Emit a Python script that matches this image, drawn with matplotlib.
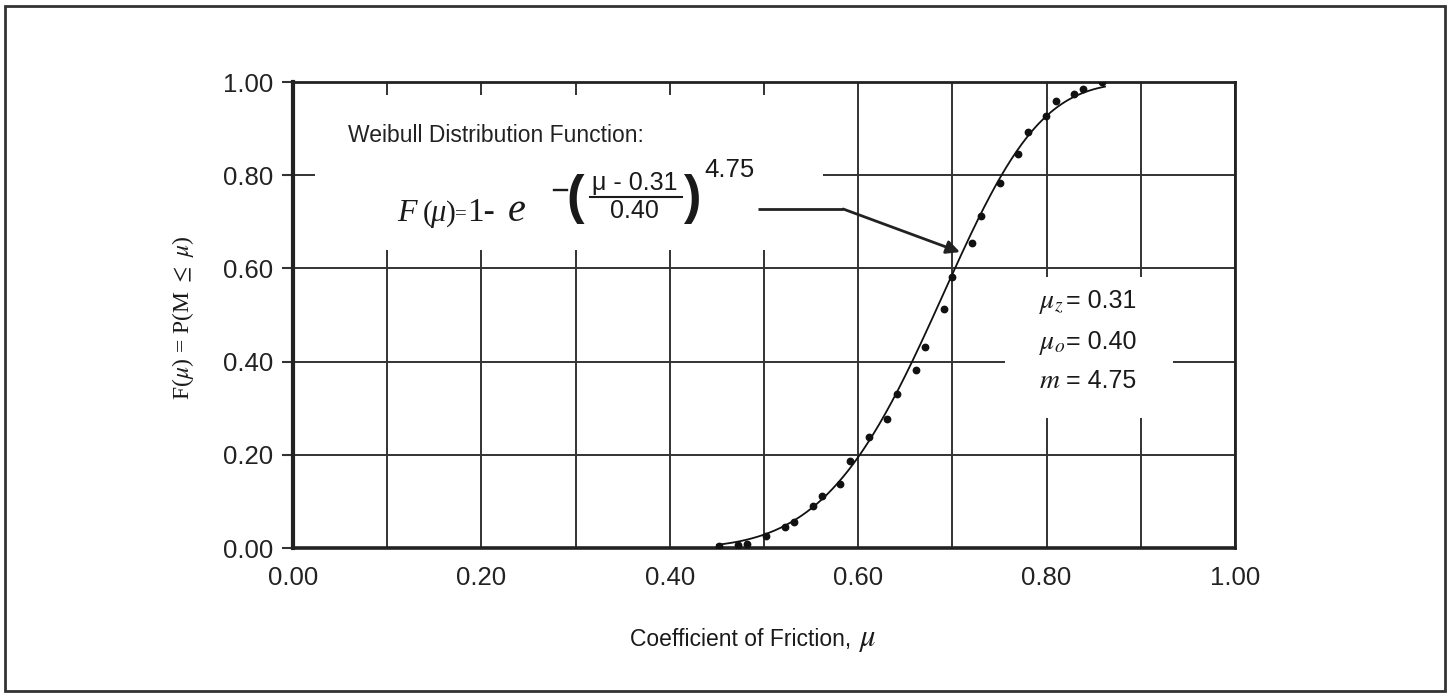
import numpy as np
import matplotlib
matplotlib.use("Agg")
import matplotlib.pyplot as plt
from matplotlib.patches import Rectangle

# ---------------- data ----------------
mu_obs = [0.452, 0.472, 0.482, 0.502, 0.522, 0.532, 0.552, 0.562, 0.581,
          0.591, 0.611, 0.631, 0.641, 0.661, 0.671, 0.691, 0.700, 0.721,
          0.730, 0.750, 0.770, 0.780, 0.799, 0.810, 0.829, 0.839, 0.859]
F_obs = [0.005, 0.006, 0.008, 0.026, 0.044, 0.056, 0.090, 0.111, 0.137,
         0.187, 0.238, 0.276, 0.331, 0.382, 0.432, 0.512, 0.582, 0.655,
         0.712, 0.783, 0.845, 0.893, 0.926, 0.959, 0.974, 0.985, 0.999]

# fitted Weibull parameters shown on the chart
mu_z = 0.31
mu_o = 0.40
m_shape = 4.75
curve_range = [0.45, 0.862]

x_ticks = [0.0, 0.2, 0.4, 0.6, 0.8, 1.0]
y_ticks = [0.0, 0.2, 0.4, 0.6, 0.8, 1.0]
tick_labels_x = ["0.00", "0.20", "0.40", "0.60", "0.80", "1.00"]
tick_labels_y = ["0.00", "0.20", "0.40", "0.60", "0.80", "1.00"]

# ---------------- figure ----------------
W, H = 1448, 694
fig = plt.figure(figsize=(W / 100, H / 100), dpi=100)
SANS = "Liberation Sans"
SERIF = "Liberation Serif"
plt.rcParams["font.family"] = [SANS, "DejaVu Sans"]


def P(px, py):
    return (px / W, 1 - py / H)


ax = fig.add_axes([293 / W, 1 - 548 / H, (1235 - 293) / W, (548 - 82) / H])
ax.set_xlim(0, 1)
ax.set_ylim(0, 1)

ax.set_xticks(x_ticks)
ax.set_xticklabels(tick_labels_x)
ax.set_xticks(np.arange(0.1, 1.0, 0.2), minor=True)
ax.set_yticks(y_ticks)
ax.set_yticklabels(tick_labels_y)
ax.set_axisbelow(True)
ax.grid(which="both", color="#333333", lw=1.4)

ax.tick_params(axis="x", which="both", length=0, pad=13, labelsize=18.5,
               labelcolor="#222222")
ax.tick_params(axis="y", which="major", length=8, width=1.5, pad=6,
               labelsize=18.5, labelcolor="#222222", color="#333333")

for side, lw in (("left", 3), ("bottom", 2.6), ("top", 2), ("right", 2)):
    ax.spines[side].set_linewidth(lw)
    ax.spines[side].set_color("#222222")

# white masks where text sits on the grid
ax.add_patch(Rectangle((0.023, 0.6395), 0.5396, 0.3325, fc="white",
                       ec="none", zorder=1))
ax.add_patch(Rectangle((0.756, 0.279), 0.178, 0.3025, fc="white",
                       ec="none", zorder=1))

# fitted curve
xc = np.linspace(curve_range[0], curve_range[1], 300)
yc = 1 - np.exp(-((xc - mu_z) / mu_o) ** m_shape)
ax.plot(xc, yc, color="#111111", lw=1.3, zorder=3)

# observed data
ax.plot(mu_obs, F_obs, "o", color="#111111", ms=4.6, zorder=4)

# arrow
ax.plot([0.4936, 0.584], [0.7275, 0.7275], color="#222222", lw=2,
        zorder=3, solid_capstyle="butt")
ax.annotate("", xy=(0.708, 0.635), xytext=(0.584, 0.7275),
            arrowprops=dict(arrowstyle="-|>", lw=2, color="#222222",
                            mutation_scale=20, shrinkA=0, shrinkB=0),
            zorder=3)

# ---------------- text ----------------
fig.text(*P(348, 142), "Weibull Distribution Function:", fontsize=16.5,
         family=SANS, color="#222222", ha="left", va="baseline")

tc = "#1a1a1a"
fig.text(*P(397, 221), "F", fontsize=23, family=SERIF, style="italic",
         color=tc, va="baseline")
fig.text(*P(423, 221), "(", fontsize=21, family=SERIF, color=tc, va="baseline")
fig.text(*P(430, 221), "μ", fontsize=22, family=SERIF, style="italic",
         color=tc, va="baseline")
fig.text(*P(446, 221), ")", fontsize=21, family=SERIF, color=tc, va="baseline")
fig.text(*P(455, 219), "=", fontsize=15, family=SERIF, color=tc, va="baseline")
fig.text(*P(467, 221), "1-", fontsize=24, family=SERIF, color=tc,
         va="baseline")
fig.text(*P(508, 221), "e", fontsize=29, family=SERIF, style="italic",
         color=tc, va="baseline")
# minus sign of the exponent and fraction bar drawn as lines
fig.add_artist(plt.Line2D([554 / W, 567 / W], [1 - 190 / H, 1 - 190 / H],
                          color=tc, lw=1.7))
fig.text(*P(566, 199), "(", fontsize=38, family=SANS, weight="bold",
         color=tc, va="center")
fig.text(*P(635, 190), "μ - 0.31", fontsize=18, family=SANS, color=tc,
         ha="center", va="baseline")
fig.text(*P(634, 218), "0.40", fontsize=18, family=SANS, color=tc,
         ha="center", va="baseline")
fig.add_artist(plt.Line2D([590 / W, 682 / W], [1 - 197 / H, 1 - 197 / H],
                          color=tc, lw=1.5))
fig.text(*P(684, 199), ")", fontsize=38, family=SANS, weight="bold",
         color=tc, va="center")
fig.text(*P(704, 177), "4.75", fontsize=18.5, family=SANS, color=tc,
         va="baseline")

# parameter block
for yb, sym, val in ((308, r"$\mu_z$", "= 0.31"),
                     (349, r"$\mu_o$", "= 0.40"),
                     (388, r"$m$", "= 4.75")):
    fig.text(*P(1039, yb), sym, fontsize=20, math_fontfamily="stix",
             color=tc, va="baseline")
    fig.text(*P(1066, yb), val, fontsize=18, family=SANS, color=tc,
             va="baseline")

# axis labels
fig.text(*P(183, 318), r"F($\mu$) = P(M $\leq$ $\mu$)", fontsize=17,
         family=SERIF, math_fontfamily="stix", rotation=90,
         ha="center", va="center", color=tc)
fig.text(*P(630, 646), "Coefficient of Friction, ", fontsize=16.5,
         family=SANS, ha="left", va="baseline", color=tc)
fig.text(*P(876, 646), r"$\mu$", fontsize=22, math_fontfamily="stix",
         ha="right", va="baseline", color=tc)

# outer border
fig.add_artist(Rectangle((5 / W, 1 - 691 / H), 1440 / W, 685 / H,
                         transform=fig.transFigure, fill=False, lw=2,
                         ec="#333333"))

fig.savefig("out.png", dpi=100, facecolor="white")
